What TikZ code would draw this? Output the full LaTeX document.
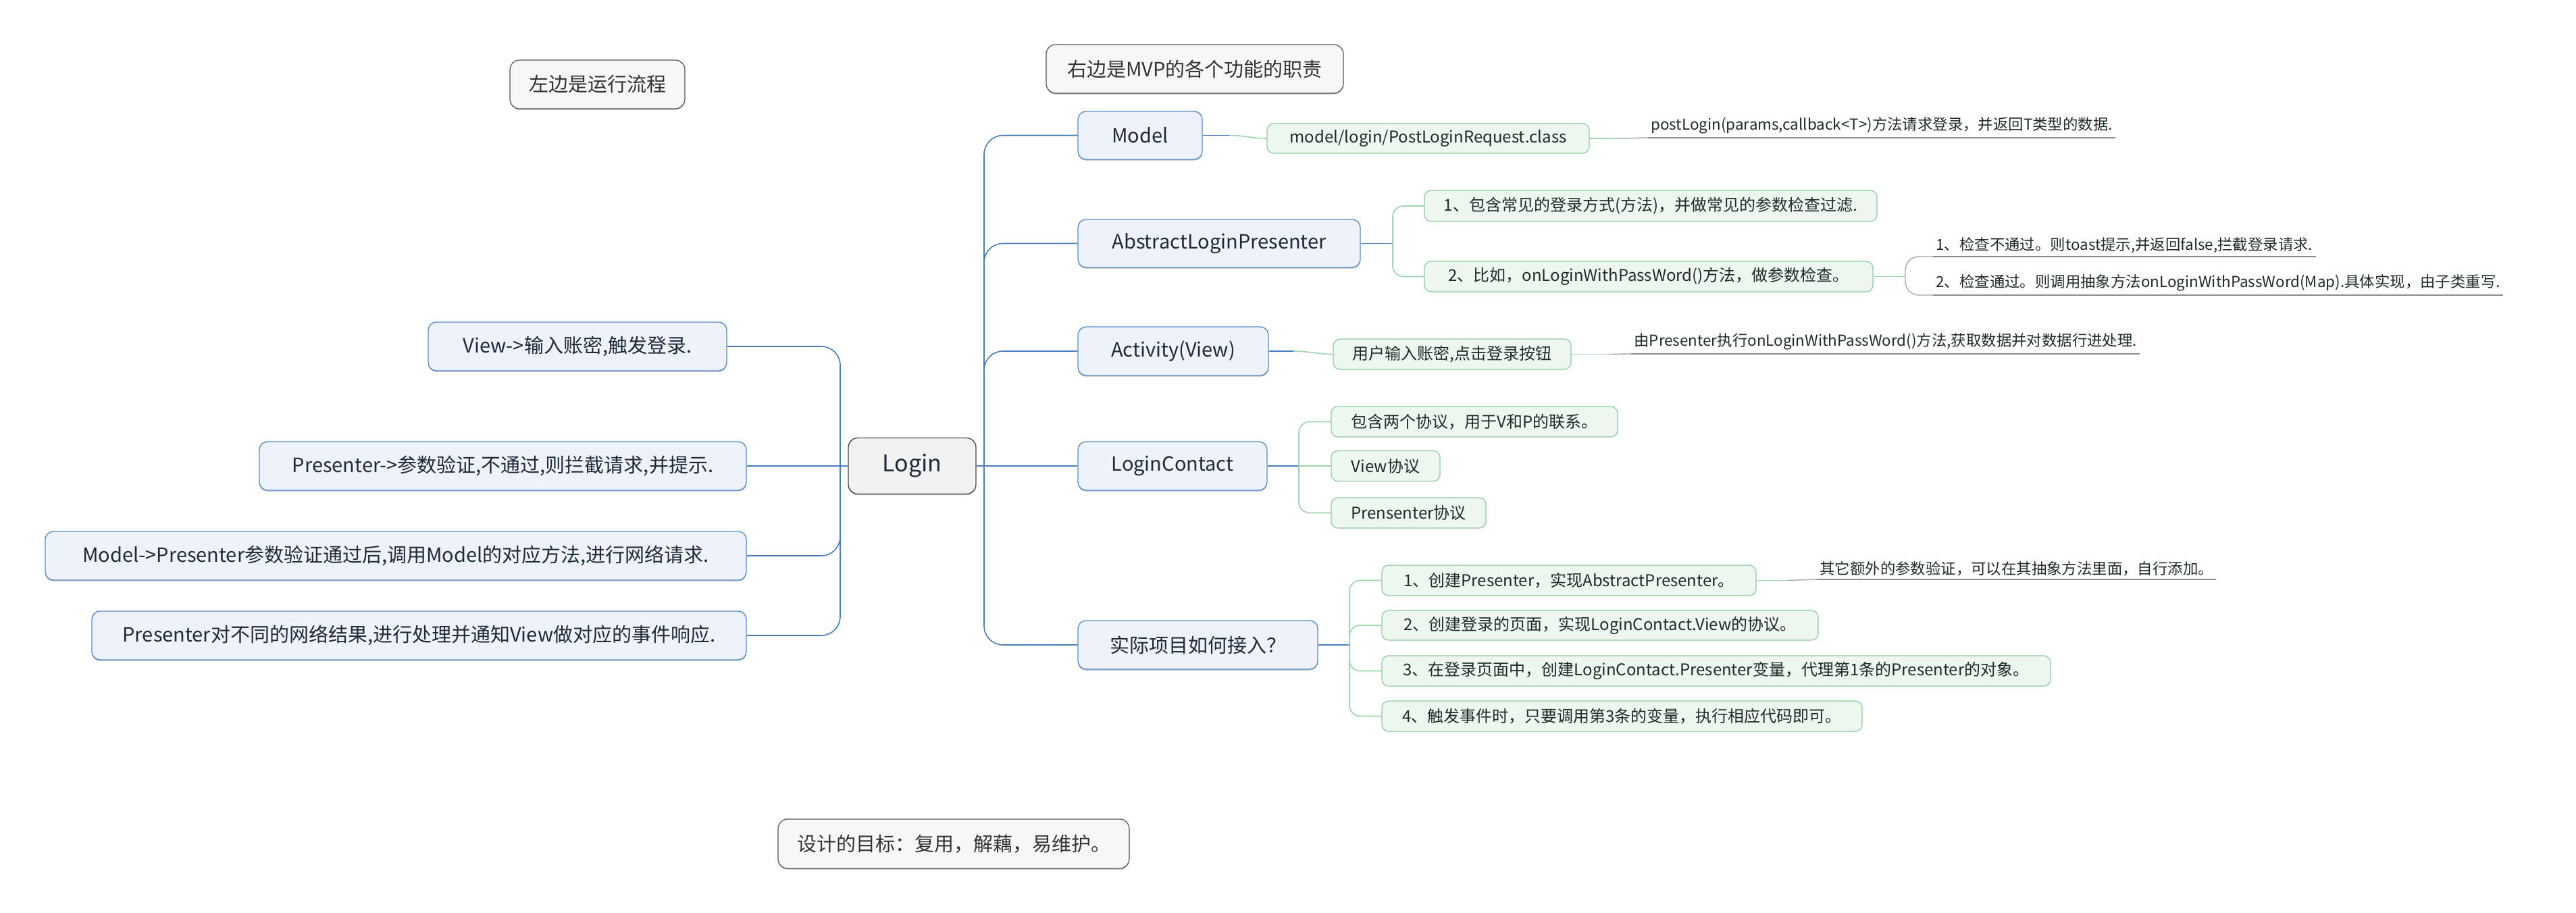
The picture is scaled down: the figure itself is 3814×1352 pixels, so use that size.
\documentclass[tikz,border=0pt]{standalone}
\usepackage{fontspec}
\setmainfont{Noto Sans CJK SC}
\usetikzlibrary{shadows}
\definecolor{lonefill}{HTML}{EEF3FB}
\definecolor{loneline}{HTML}{5B8FCB}
\definecolor{rootfill}{HTML}{F2F2F2}
\definecolor{rootline}{HTML}{4D4D4D}
\definecolor{ltwofill}{HTML}{EDF6EF}
\definecolor{ltwoline}{HTML}{8DCB9E}
\definecolor{lblfill}{HTML}{F7F7F7}
\definecolor{lblline}{HTML}{555555}
\definecolor{trunkcol}{HTML}{4A7EBB}
\definecolor{greencol}{HTML}{9FD3AE}
\definecolor{graycol}{HTML}{A6A6A6}
\definecolor{ulcol}{HTML}{8C8C8C}
\definecolor{txtmain}{HTML}{1F2A36}
\definecolor{txtgreen}{HTML}{1E2B26}
\definecolor{txtlbl}{HTML}{333333}
\tikzset{
  shad/.style={drop shadow={shadow xshift=0pt,shadow yshift=-0.8pt,fill=black,opacity=0.3}},
  rootbox/.style={shad,draw=rootline,fill=rootfill,line width=0.7pt,rounded corners=7pt,
    text=txtmain,font=\fontsize{17}{20}\selectfont,inner sep=0pt},
  lonebox/.style={shad,draw=loneline,fill=lonefill,line width=0.7pt,rounded corners=6pt,
    text=txtmain,font=\fontsize{14.5}{17}\selectfont,inner sep=0pt},
  ltwobox/.style={draw=ltwoline,fill=ltwofill,line width=0.6pt,rounded corners=5pt,
    text=txtgreen,font=\fontsize{12}{14}\selectfont,inner sep=0pt},
  lblbox/.style={shad,draw=lblline,fill=lblfill,line width=0.6pt,rounded corners=7pt,
    text=txtlbl,font=\fontsize{14.5}{17}\selectfont,inner sep=0pt},
  notebox/.style={anchor=south west,inner xsep=2pt,inner ysep=2.5pt,text=txtgreen,
    font=\fontsize{11.2}{13}\selectfont},
  trunkln/.style={draw=trunkcol,line width=0.8pt},
  greenln/.style={draw=greencol,line width=0.8pt},
  grayln/.style={draw=graycol,line width=0.7pt},
  uline/.style={draw=ulcol,line width=0.7pt},
}
\begin{document}
\begin{tikzpicture}[x=0.5pt,y=-0.5pt]
\useasboundingbox (0,0) rectangle (3814,1352);
\fill[white] (0,0) rectangle (3814,1352);

% labels
\node[lblbox,minimum width=129.5pt,minimum height=36pt] (lblA) at (884.5,125) {左边是运行流程};
\node[lblbox,minimum width=220pt,minimum height=36pt] (lblB) at (1769,102) {右边是MVP的各个功能的职责};
\node[lblbox,minimum width=260pt,minimum height=36.5pt] (lblC) at (1412,1249.5) {设计的目标：复用，解藕，易维护。};

% root
\node[rootbox,minimum width=94.5pt,minimum height=41.5pt] (login) at (1350.5,690) {Login};

% left side
\node[lonebox,minimum width=221pt,minimum height=36pt] (va) at (855,513) {View->输入账密,触发登录.};
\node[lonebox,minimum width=360.5pt,minimum height=36pt] (vb) at (744.5,690) {Presenter->参数验证,不通过,则拦截请求,并提示.};
\node[lonebox,minimum width=519pt,minimum height=36pt] (vc) at (586,823) {Model->Presenter参数验证通过后,调用Model的对应方法,进行网络请求.};
\node[lonebox,minimum width=484.5pt,minimum height=36pt] (vd) at (620.5,941) {Presenter对不同的网络结果,进行处理并通知View做对应的事件响应.};

% right side level 1
\node[lonebox,minimum width=92pt,minimum height=35.5pt] (model) at (1688,200.5) {Model};
\node[lonebox,minimum width=209pt,minimum height=35.5pt] (alp) at (1805,360.5) {AbstractLoginPresenter};
\node[lonebox,minimum width=141pt,minimum height=36pt] (act) at (1737,520) {Activity(View)};
\node[lonebox,minimum width=140pt,minimum height=36pt] (lc) at (1736,690) {LoginContact};
\node[lonebox,minimum width=177.5pt,minimum height=36pt] (impl) at (1773.5,955) {实际项目如何接入？};

% level 2
\node[ltwobox,minimum width=238.5pt,minimum height=22pt] (ma) at (2114.5,205) {model/login/PostLoginRequest.class};
\node[ltwobox,minimum width=335pt,minimum height=23pt] (aa) at (2444,305) {1、包含常见的登录方式(方法)，并做常见的参数检查过滤.};
\node[ltwobox,minimum width=332pt,minimum height=22.5pt] (ab) at (2441,409.5) {2、比如，onLoginWithPassWord()方法，做参数检查。};
\node[ltwobox,minimum width=176pt,minimum height=22.5pt] (acta) at (2150,524.5) {用户输入账密,点击登录按钮};
\node[ltwobox,minimum width=212pt,minimum height=22.5pt] (lca) at (2183,624.5) {包含两个协议，用于V和P的联系。};
\node[ltwobox,minimum width=80.5pt,minimum height=22.5pt] (lcb) at (2051.5,690) {View协议};
\node[ltwobox,minimum width=114.5pt,minimum height=22.5pt] (lcc) at (2085.5,759.5) {Prensenter协议};
\node[ltwobox,minimum width=277pt,minimum height=22.5pt] (sa) at (2323,859.5) {1、创建Presenter，实现AbstractPresenter。};
\node[ltwobox,minimum width=323pt,minimum height=22pt] (sb) at (2369,926) {2、创建登录的页面，实现LoginContact.View的协议。};
\node[ltwobox,minimum width=495pt,minimum height=22.5pt] (sc) at (2541,993.5) {3、在登录页面中，创建LoginContact.Presenter变量，代理第1条的Presenter的对象。};
\node[ltwobox,minimum width=355.5pt,minimum height=22.5pt] (sd) at (2401.5,1060.5) {4、触发事件时，只要调用第3条的变量，执行相应代码即可。};

% level 3 notes
\node[notebox] (na) at (2440,204) {postLogin(params,callback<T>)方法请求登录，并返回T类型的数据.};
\node[notebox] (nb) at (2862,380) {1、检查不通过。则toast提示,并返回false,拦截登录请求.};
\node[notebox] (nc) at (2862,437) {2、检查通过。则调用抽象方法onLoginWithPassWord(Map).具体实现，由子类重写.};
\node[notebox] (nd) at (2415,524) {由Presenter执行onLoginWithPassWord()方法,获取数据并对数据行进处理.};
\node[notebox] (ne) at (2690,858) {其它额外的参数验证，可以在其抽象方法里面，自行添加。};
\foreach \n in {na,nb,nc,nd,ne} \draw[uline] (\n.south west) -- (\n.south east);

% trunk coordinates
\coordinate (lt) at (1244,690);
\coordinate (rt) at (1457,690);
\coordinate (mf) at (1820,200.5);
\coordinate (af) at (2062,360.5);
\coordinate (actf) at (1915,520);
\coordinate (lcf) at (1923,690);
\coordinate (imf) at (1998,955);
\coordinate (maf) at (2400,205);
\coordinate (abf) at (2821,409.5);
\coordinate (actaf) at (2380,524.5);
\coordinate (saf) at (2648,859.5);

% left connectors
\draw[trunkln] (login.west) -- (lt);
\draw[trunkln,rounded corners=14pt] (lt) |- (va.east);
\draw[trunkln] (lt) -- (vb.east);
\draw[trunkln,rounded corners=14pt] (lt) |- (vc.east);
\draw[trunkln,rounded corners=14pt] (lt) |- (vd.east);

% right connectors
\draw[trunkln] (login.east) -- (rt);
\draw[trunkln,rounded corners=14pt] (rt) |- (model.west);
\draw[trunkln,rounded corners=14pt] (rt) |- (alp.west);
\draw[trunkln,rounded corners=14pt] (rt) |- (act.west);
\draw[trunkln] (rt) -- (lc.west);
\draw[trunkln,rounded corners=14pt] (rt) |- (impl.west);

% level 1 -> level 2
\draw[trunkln] (model.east) -- (mf);
\draw[greenln] (mf) to[out=0,in=180] (ma.west);
\draw[trunkln] (alp.east) -- (af);
\draw[greenln,rounded corners=8pt] (af) |- (aa.west);
\draw[greenln,rounded corners=8pt] (af) |- (ab.west);
\draw[trunkln] (act.east) -- (actf);
\draw[greenln] (actf) to[out=0,in=180] (acta.west);
\draw[trunkln] (lc.east) -- (lcf);
\draw[greenln,rounded corners=8pt] (lcf) |- (lca.west);
\draw[greenln] (lcf) -- (lcb.west);
\draw[greenln,rounded corners=8pt] (lcf) |- (lcc.west);
\draw[trunkln] (impl.east) -- (imf);
\draw[greenln,rounded corners=8pt] (imf) |- (sa.west);
\draw[greenln,rounded corners=8pt] (imf) |- (sb.west);
\draw[greenln,rounded corners=8pt] (imf) |- (sc.west);
\draw[greenln,rounded corners=8pt] (imf) |- (sd.west);

% level 2 -> level 3
\draw[greenln] (ma.east) -- (maf);
\draw[grayln] (maf) to[out=0,in=180] (na.south west);
\draw[greenln] (ab.east) -- (abf);
\draw[grayln,rounded corners=10pt] (abf) |- (nb.south west);
\draw[grayln,rounded corners=10pt] (abf) |- (nc.south west);
\draw[greenln] (acta.east) -- (actaf);
\draw[grayln] (actaf) to[out=0,in=180] (nd.south west);
\draw[greenln] (sa.east) -- (saf);
\draw[grayln] (saf) -- (ne.south west);
\end{tikzpicture}
\end{document}
